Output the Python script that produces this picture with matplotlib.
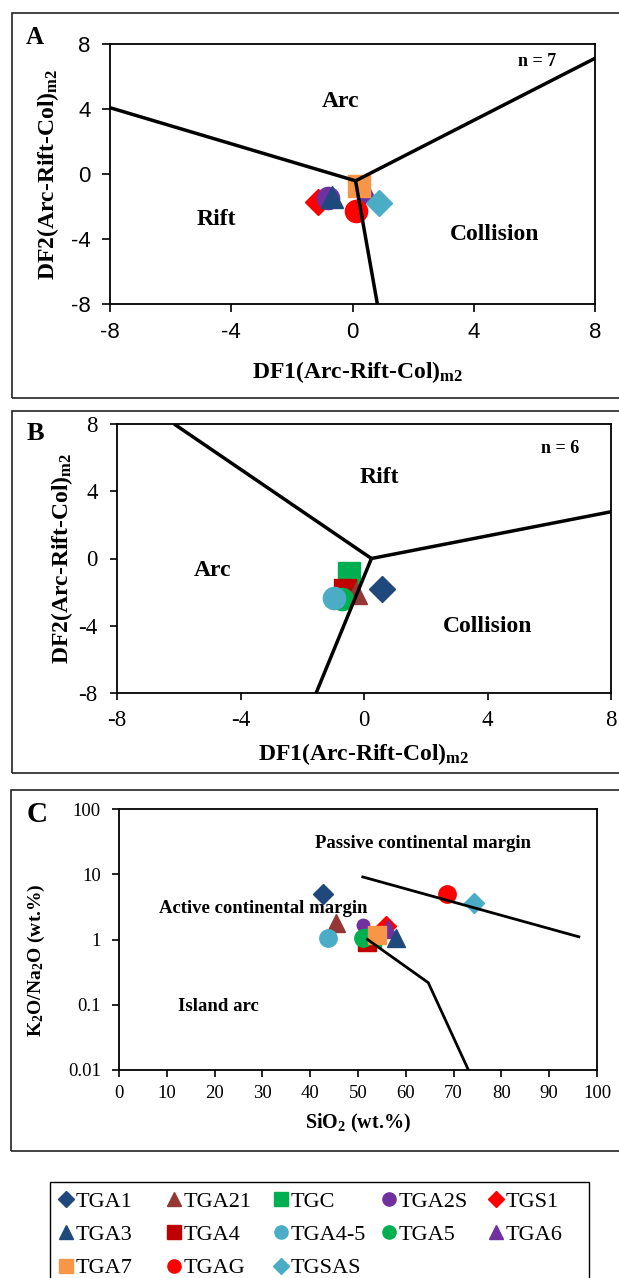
import matplotlib
matplotlib.use("Agg")
import matplotlib.pyplot as plt
from matplotlib.lines import Line2D
from matplotlib.patches import Rectangle

plt.rcParams['axes.unicode_minus'] = False
plt.rcParams['mathtext.fontset'] = 'custom'
plt.rcParams['mathtext.rm'] = 'Liberation Serif:bold'
plt.rcParams['mathtext.bf'] = 'Liberation Serif:bold'
plt.rcParams['mathtext.it'] = 'Liberation Serif:bold:italic'

SERIF = 'Liberation Serif'
SANS = 'Liberation Sans'

# sample styles
styles = {
    'TGA1': ('D', '#1F497D'), 'TGA21': ('^', '#953735'), 'TGC': ('s', '#00B050'),
    'TGA2S': ('o', '#7030A0'), 'TGS1': ('D', '#FF0000'), 'TGA3': ('^', '#1F497D'),
    'TGA4': ('s', '#C00000'), 'TGA4-5': ('o', '#4BACC6'), 'TGA5': ('o', '#00B050'),
    'TGA6': ('^', '#7030A0'), 'TGA7': ('s', '#F79646'), 'TGAG': ('o', '#FF0000'),
    'TGSAS': ('D', '#4BACC6'),
}
legend_cols = [['TGA1', 'TGA3', 'TGA7'], ['TGA21', 'TGA4', 'TGAG'],
               ['TGC', 'TGA4-5', 'TGSAS'], ['TGA2S', 'TGA5'], ['TGS1', 'TGA6']]

# panel A (n = 7)
a_names = ['TGS1', 'TGA2S', 'TGA3', 'TGA6', 'TGA7', 'TGAG', 'TGSAS']
a_df1 = [-1.15, -0.8, -0.68, 0.45, 0.23, 0.12, 0.86]
a_df2 = [-1.75, -1.5, -1.4, -1.1, -0.75, -2.28, -1.8]
a_bound_x = [[-8, 0.1], [0.1, 8], [0.1, 0.82]]
a_bound_y = [[4.08, -0.42], [-0.42, 7.12], [-0.42, -8]]

# panel B (n = 6)
b_names = ['TGC', 'TGA4', 'TGA21', 'TGA5', 'TGA4-5', 'TGA1']
b_df1 = [-0.48, -0.62, -0.25, -0.72, -0.96, 0.59]
b_df2 = [-0.88, -1.85, -2.05, -2.43, -2.37, -1.83]
b_bound_x = [[-6.15, 0.24], [0.24, 8], [0.24, -1.55]]
b_bound_y = [[8, 0.0], [0.0, 2.78], [0.0, -8]]

# panel C
c_names = ['TGA1', 'TGA21', 'TGA4-5', 'TGA2S', 'TGS1', 'TGA6', 'TGC', 'TGA4',
           'TGA5', 'TGA7', 'TGA3', 'TGAG', 'TGSAS']
c_sio2 = [42.7, 45.5, 43.8, 51.0, 55.9, 56.2, 53.0, 51.8, 51.1, 54.0, 57.9, 68.6, 74.3]
c_ratio = [4.98, 1.77, 1.04, 1.65, 1.6, 1.45, 1.05, 0.93, 1.07, 1.17, 1.04, 4.98, 3.66]
c_small = {'TGA2S': 9}
c_upper_x = [51.0, 96.2]
c_upper_y = [9.1, 1.1]
c_lower_x = [52.0, 64.7, 73.1]
c_lower_y = [1.0, 0.218, 0.01]

W, H = 619, 1278
fig = plt.figure(figsize=(W / 100, H / 100), dpi=100)


def fx(px):
    return px / W


def fy(py):
    return 1 - py / H


# panel frames
for top, bot, left in [(13, 398, 12), (411, 773, 12), (790, 1151, 11)]:
    fig.patches.append(Rectangle((fx(left), fy(bot)), 1.1, (bot - top) / H,
                                 transform=fig.transFigure, fill=False,
                                 edgecolor='#222222', linewidth=1.2, clip_on=False))


def style_axes(ax, family, size, xpad, ypad, length):
    for sp in ax.spines.values():
        sp.set_linewidth(1.3)
        sp.set_color('black')
    ax.tick_params(direction='out', length=length, width=1.2, labelsize=size,
                   labelfontfamily=family)
    ax.tick_params(axis='x', pad=xpad)
    ax.tick_params(axis='y', pad=ypad)


def scatter_group(ax, names, xs, ys, ms, small=None):
    for n, x, y in zip(names, xs, ys):
        m, c = styles[n]
        size = ms
        if small and n in small:
            size = small[n]
        if m == 'D':
            size = size * 0.85
        ax.plot(x, y, marker=m, color=c, markersize=size, linestyle='none', zorder=3)


lab_kw = dict(family=SERIF, weight='bold')

# ---- panel A ----
axA = fig.add_axes([fx(110), fy(304), (595 - 110) / W, (304 - 44) / H])
scatter_group(axA, a_names, a_df1, a_df2, 16)
for xs, ys in zip(a_bound_x, a_bound_y):
    axA.plot(xs, ys, color='black', linewidth=2.5, zorder=5, solid_capstyle='butt')
axA.set_xlim(-8, 8)
axA.set_ylim(-8, 8)
axA.set_xticks([-8, -4, 0, 4, 8])
axA.set_yticks([-8, -4, 0, 4, 8])
style_axes(axA, SANS, 16, 7, 8, 6)
axA.set_xlabel('DF1(Arc-Rift-Col)$_{\\mathrm{m2}}$', fontsize=17, **lab_kw)
axA.set_ylabel('DF2(Arc-Rift-Col)$_{\\mathrm{m2}}$', fontsize=17, **lab_kw)
axA.xaxis.set_label_coords(0.51, -0.21)
axA.yaxis.set_label_coords(-0.101, 0.5)
for txt, x, y, fs in [('Arc', -0.4, 4.45, 17), ('Rift', -4.5, -2.8, 17),
                      ('Collision', 4.7, -3.75, 17), ('n = 7', 6.1, 6.95, 13)]:
    axA.text(x, y, txt, fontsize=fs, ha='center', va='center', **lab_kw)
fig.text(fx(35), fy(37), 'A', fontsize=18, ha='center', va='center', **lab_kw)

# ---- panel B ----
axB = fig.add_axes([fx(117), fy(693), (611 - 117) / W, (693 - 424) / H])
scatter_group(axB, b_names, b_df1, b_df2, 16)
for xs, ys in zip(b_bound_x, b_bound_y):
    axB.plot(xs, ys, color='black', linewidth=2.5, zorder=5, solid_capstyle='butt')
axB.set_xlim(-8, 8)
axB.set_ylim(-8, 8)
axB.set_xticks([-8, -4, 0, 4, 8])
axB.set_yticks([-8, -4, 0, 4, 8])
style_axes(axB, SERIF, 16.5, 7, 9, 5)
axB.set_xlabel('DF1(Arc-Rift-Col)$_{\\mathrm{m2}}$', fontsize=17, **lab_kw)
axB.set_ylabel('DF2(Arc-Rift-Col)$_{\\mathrm{m2}}$', fontsize=17, **lab_kw)
axB.xaxis.set_label_coords(0.5, -0.18)
axB.yaxis.set_label_coords(-0.085, 0.5)
for txt, x, y, fs in [('Rift', 0.5, 4.8, 17), ('Arc', -4.9, -0.7, 17),
                      ('Collision', 4.0, -4.05, 17), ('n = 6', 6.35, 6.55, 13)]:
    axB.text(x, y, txt, fontsize=fs, ha='center', va='center', **lab_kw)
fig.text(fx(35), fy(433), 'B', fontsize=19, ha='center', va='center', **lab_kw)

# ---- panel C ----
axC = fig.add_axes([fx(119), fy(1070), (597 - 119) / W, (1070 - 809) / H])
scatter_group(axC, c_names, c_sio2, c_ratio, 12.5, c_small)
axC.plot(c_upper_x, c_upper_y, color='black', linewidth=2.0, zorder=5)
axC.plot(c_lower_x, c_lower_y, color='black', linewidth=2.0, zorder=5)
axC.set_yscale('log')
axC.set_xlim(0, 100)
axC.set_ylim(0.01, 100)
axC.set_xticks(range(0, 101, 10))
axC.set_yticks([0.01, 0.1, 1, 10, 100])
axC.set_yticklabels(['0.01', '0.1', '1', '10', '100'])
axC.minorticks_off()
style_axes(axC, SERIF, 13.5, 6, 8, 5)
axC.set_xlabel('SiO$_{2}$ (wt.%)', fontsize=14.5, **lab_kw)
axC.set_ylabel('K$_{2}$O/Na$_{2}$O (wt.%)', fontsize=14, **lab_kw)
axC.xaxis.set_label_coords(0.5, -0.16)
axC.yaxis.set_label_coords(-0.151, 0.42)
for txt, x, y, fs in [('Passive continental margin', 63.5, 29.5, 13.5),
                      ('Active continental margin', 30.1, 2.98, 13.5),
                      ('Island arc', 20.8, 0.093, 13.5)]:
    axC.text(x, y, txt, fontsize=fs, ha='center', va='center', **lab_kw)
fig.text(fx(37), fy(815), 'C', fontsize=21, ha='center', va='center', **lab_kw)

# ---- legend: one frame, five columns ----
fig.patches.append(Rectangle((fx(50), fy(1290)), (589 - 50) / W, (1290 - 1182) / H,
                             transform=fig.transFigure, fill=False,
                             edgecolor='black', linewidth=1.0, clip_on=False))
col_centers = [66, 174, 281, 389, 496]
fs_leg = 16
for names, cx in zip(legend_cols, col_centers):
    handles = []
    for n in names:
        m, c = styles[n]
        handles.append(Line2D([], [], marker=m, color=c, linestyle='none',
                              markersize=9.5 if m != 'D' else 8, label=n))
    hl = 0.6
    left = cx - hl * fs_leg * 100 / 72 / 2
    fig.legend(handles=handles, loc='upper left',
               bbox_to_anchor=(fx(left), fy(1191)), borderaxespad=0,
               prop={'family': SERIF, 'size': fs_leg}, frameon=False,
               handlelength=hl, handletextpad=0.15, labelspacing=0.58,
               borderpad=0)

fig.savefig('out.png', dpi=100)
